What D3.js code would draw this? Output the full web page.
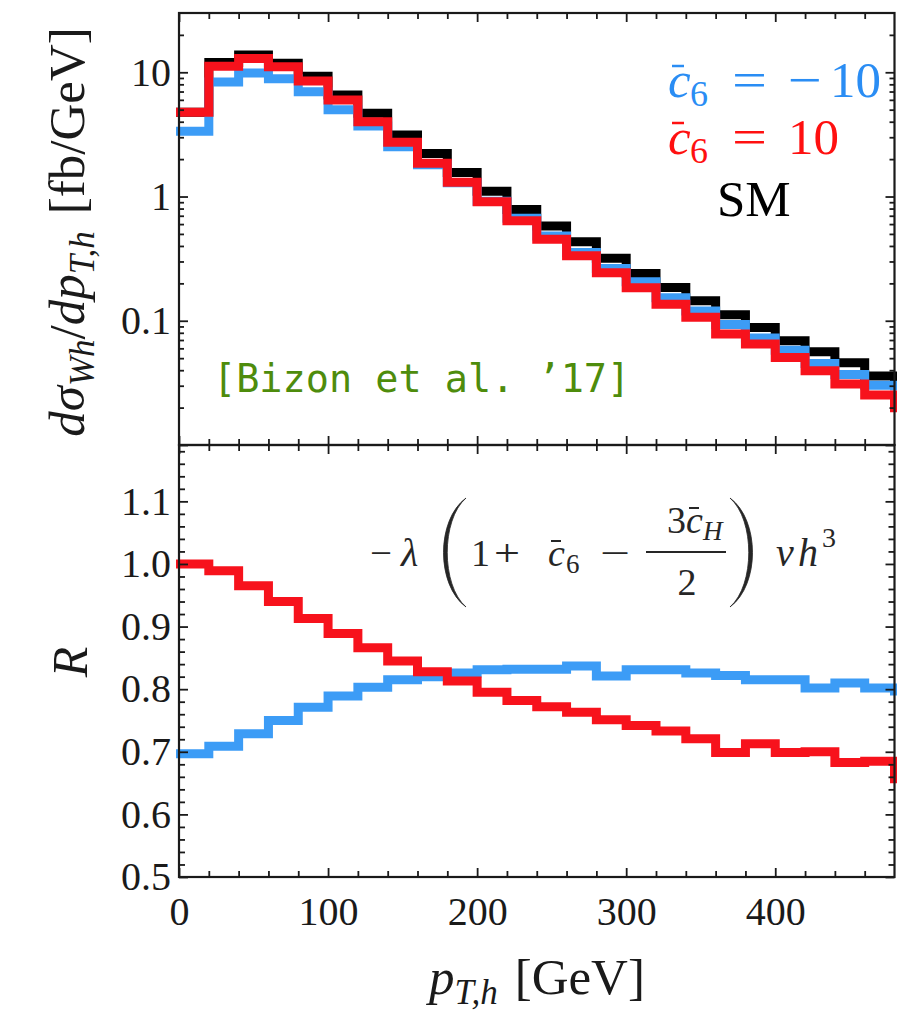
<!DOCTYPE html>
<html>
<head>
<meta charset="utf-8">
<script src="https://cdn.jsdelivr.net/npm/d3@7/dist/d3.min.js"></script>
<style>
  html, body { margin: 0; padding: 0; background: #fff; }
  svg { display: block; }
</style>
</head>
<body>
<svg id="chart" width="903" height="1013"></svg>
<script>
// Bin edges in GeV; the 480-500 bin lies past the frame and is clipped away
const binEdges = [0, 20, 40, 60, 80, 100, 120, 140, 160, 180, 200, 220, 240, 260, 280, 300,
                  320, 340, 360, 380, 400, 420, 440, 460, 480, 500];

// dσ/dp_T,h in fb/GeV
const smXsec      = [4.77, 12.0, 13.8, 11.8, 9.3, 6.55, 4.67, 3.12, 2.22, 1.56, 1.105, 0.787,
                     0.578, 0.432, 0.318, 0.240, 0.185, 0.145, 0.112, 0.0884, 0.0689, 0.0562,
                     0.0459, 0.0360, 0.0355];
const c6MinusXsec = [3.35, 8.37, 9.85, 8.85, 6.97, 5.0, 3.7, 2.51, 1.8, 1.29, 0.918, 0.667,
                     0.48, 0.355, 0.264, 0.206, 0.153, 0.120, 0.0933, 0.0728, 0.058, 0.0453,
                     0.0369, 0.0303, 0.0298];
const c6PlusXsec  = [4.77, 11.2, 12.9, 11.1, 8.49, 5.97, 3.99, 2.73, 1.85, 1.30, 0.906, 0.638,
                     0.452, 0.334, 0.244, 0.184, 0.136, 0.1066, 0.0782, 0.065, 0.0507, 0.0396,
                     0.0310, 0.0253, 0.0199];

// Ratio R to the SM prediction
const c6MinusRatio = [0.697, 0.709, 0.729, 0.750, 0.771, 0.789, 0.803, 0.815, 0.820, 0.826, 0.831,
                      0.832, 0.832, 0.837, 0.821, 0.831, 0.831, 0.826, 0.822, 0.815, 0.815, 0.802,
                      0.810, 0.802, 0.797];
const c6PlusRatio  = [1.000, 0.989, 0.965, 0.940, 0.913, 0.889, 0.866, 0.845, 0.828, 0.813, 0.795,
                      0.782, 0.772, 0.763, 0.751, 0.742, 0.733, 0.721, 0.699, 0.713, 0.699, 0.700,
                      0.683, 0.685, 0.657];

// Tick values and labels
const xMajorTicks = [0, 100, 200, 300, 400];
const xTickLabels = ["0", "100", "200", "300", "400"];
const logMajorTicks = [0.01, 0.1, 1, 10];
const logTickLabels = ["", "0.1", "1", "10"];
const ratioMajorTicks = [0.5, 0.6, 0.7, 0.8, 0.9, 1.0, 1.1];
const ratioTickLabels = ["0.5", "0.6", "0.7", "0.8", "0.9", "1.0", "1.1"];

const xMinorTicks = d3.range(20, 480, 20).filter(v => v % 100 !== 0);
const logMinorTicks = [];
[0.01, 0.1, 1].forEach(dec => d3.range(2, 10).forEach(k => logMinorTicks.push(+(k * dec).toPrecision(3))));
logMinorTicks.push(20);
const ratioMinorTicks = d3.range(26, 60).map(k => k / 50).filter(v => Math.round(v * 50) % 5 !== 0);

const svg = d3.select("#chart");
const L = 179, R = 894.5, T = 13, M = 445, B = 877;

const x = d3.scaleLinear().domain([0, 480]).range([L, R]);
const yTop = d3.scaleLog().domain([0.01, 30]).range([M, T]);
const yRat = d3.scaleLinear().domain([0.5, 1.19]).range([B, M]);

const serif = "'Liberation Serif', 'Times New Roman', Times, serif";
const ink = "#1a1a1a";
const lineBlue = "#3c9cf6";
const lineRed = "#f7121c";
const textBlue = "#2a8df4";
const textRed = "#ff1010";

// Clip regions for the two panels (a little slack left/right for the thick strokes)
const defs = svg.append("defs");
defs.append("clipPath").attr("id", "clipTop").append("rect")
  .attr("x", L - 3).attr("y", T).attr("width", R - L + 5.5).attr("height", M - T);
defs.append("clipPath").attr("id", "clipRat").append("rect")
  .attr("x", L - 3).attr("y", M).attr("width", R - L + 5.5).attr("height", B - M);

function stepPath(values, yScale) {
  const pts = values.map((v, i) => [x(binEdges[i]), yScale(v)]);
  pts.push([x(binEdges[values.length]), yScale(values[values.length - 1])]);
  return d3.line().curve(d3.curveStepAfter)(pts);
}

function drawHist(group, values, yScale, color) {
  group.append("path")
    .attr("d", stepPath(values, yScale))
    .attr("fill", "none")
    .attr("stroke", color)
    .attr("stroke-width", 9)
    .attr("stroke-linejoin", "miter")
    .attr("stroke-linecap", "square");
}

// Upper panel: differential cross sections
const topG = svg.append("g").attr("clip-path", "url(#clipTop)");
drawHist(topG, smXsec, yTop, "#000");
drawHist(topG, c6MinusXsec, yTop, lineBlue);
drawHist(topG, c6PlusXsec, yTop, lineRed);

// Lower panel: ratios
const ratG = svg.append("g").attr("clip-path", "url(#clipRat)");
drawHist(ratG, c6MinusRatio, yRat, lineBlue);
drawHist(ratG, c6PlusRatio, yRat, lineRed);

// Frame ticks (all pointing inward)
function ticks(axisGen, transform, values, size, labels, pad) {
  const g = svg.append("g").attr("transform", transform)
    .call(axisGen.tickValues(values).tickSize(-size).tickPadding(pad || 8)
      .tickFormat(labels ? (d, i) => labels[i] : () => ""));
  g.select(".domain").remove();
  g.attr("font-family", null).attr("font-size", null);
  g.selectAll(".tick line").attr("stroke", ink).attr("stroke-width", 1.8);
  g.selectAll(".tick text").attr("fill", ink)
    .style("font-family", serif).style("font-size", "40px");
  return g;
}

// upper panel
ticks(d3.axisLeft(yTop), `translate(${L},0)`, logMajorTicks, 9, logTickLabels, 8);
ticks(d3.axisLeft(yTop), `translate(${L},0)`, logMinorTicks, 5);
ticks(d3.axisRight(yTop), `translate(${R},0)`, logMajorTicks, 9);
ticks(d3.axisRight(yTop), `translate(${R},0)`, logMinorTicks, 5);
ticks(d3.axisTop(x), `translate(0,${T})`, xMajorTicks, 9);
ticks(d3.axisTop(x), `translate(0,${T})`, xMinorTicks, 6);
ticks(d3.axisBottom(x), `translate(0,${M})`, xMajorTicks, 9);
ticks(d3.axisBottom(x), `translate(0,${M})`, xMinorTicks, 6);

// lower panel
ticks(d3.axisTop(x), `translate(0,${M})`, xMajorTicks, 9);
ticks(d3.axisTop(x), `translate(0,${M})`, xMinorTicks, 6);
ticks(d3.axisBottom(x), `translate(0,${B})`, xMajorTicks, 9, xTickLabels, 20);
ticks(d3.axisBottom(x), `translate(0,${B})`, xMinorTicks, 6);
ticks(d3.axisLeft(yRat), `translate(${L},0)`, ratioMajorTicks, 9, ratioTickLabels, 8);
ticks(d3.axisLeft(yRat), `translate(${L},0)`, ratioMinorTicks, 6);
ticks(d3.axisRight(yRat), `translate(${R},0)`, ratioMajorTicks, 9);
ticks(d3.axisRight(yRat), `translate(${R},0)`, ratioMinorTicks, 6);

// Frames
svg.append("rect").attr("x", L).attr("y", T).attr("width", R - L).attr("height", M - T)
  .attr("fill", "none").attr("stroke", ink).attr("stroke-width", 2.2);
svg.append("rect").attr("x", L).attr("y", M).attr("width", R - L).attr("height", B - M)
  .attr("fill", "none").attr("stroke", ink).attr("stroke-width", 2.2);

// Axis titles
function mathLabel(sel, parts) {
  parts.forEach(p => {
    const t = sel.append("tspan").text(p.t);
    if (p.i) t.style("font-style", "italic");
    if (p.s) t.style("font-size", p.s + "px");
    if (p.dy) t.attr("dy", p.dy);
    if (p.dx) t.attr("dx", p.dx);
  });
}

const yTitle = svg.append("text")
  .attr("transform", "translate(84,232) rotate(-90)")
  .attr("text-anchor", "middle").attr("fill", ink)
  .style("font-family", serif).style("font-size", "51px");
mathLabel(yTitle, [
  { t: "dσ", i: true },
  { t: "Wh", i: true, s: 35, dy: 10 },
  { t: "/", dy: -10 },
  { t: "dp", i: true },
  { t: "T,h", i: true, s: 35, dy: 10 },
  { t: "[fb/GeV]", dy: -10, dx: 17 }
]);

const xTitle = svg.append("text")
  .attr("x", 537).attr("y", 994)
  .attr("text-anchor", "middle").attr("fill", ink)
  .style("font-family", serif).style("font-size", "51px");
mathLabel(xTitle, [
  { t: "p", i: true },
  { t: "T,h", i: true, s: 35, dy: 10 },
  { t: "[GeV]", dy: -10, dx: 17 }
]);

svg.append("text")
  .attr("transform", "translate(87,662) rotate(-90)")
  .attr("text-anchor", "middle").attr("fill", ink)
  .style("font-family", serif).style("font-size", "50px").style("font-style", "italic")
  .text("R");

// Legend and annotations
function txt(xp, yp, str, opts) {
  const t = svg.append("text").attr("x", xp).attr("y", yp).text(str)
    .attr("fill", opts.fill || ink)
    .style("font-family", opts.family || serif)
    .style("font-size", (opts.size || 40) + "px");
  if (opts.italic) t.style("font-style", "italic");
  if (opts.anchor) t.attr("text-anchor", opts.anchor);
  if (opts.len) t.attr("textLength", opts.len).attr("lengthAdjust", "spacingAndGlyphs");
  return t;
}
function bar(x1, x2, yb, color, w) {
  svg.append("line").attr("x1", x1).attr("x2", x2).attr("y1", yb).attr("y2", yb)
    .attr("stroke", color).attr("stroke-width", w || 2.5);
}

// c6 = -10
txt(668, 97, "c", { fill: textBlue, size: 51, italic: true });
bar(672, 684, 66, textBlue);
txt(690, 106, "6", { fill: textBlue, size: 36 });
txt(732, 97, "=", { fill: textBlue, size: 51, len: 35 });
txt(788, 97, "\u2212", { fill: textBlue, size: 51, len: 34 });
txt(830, 97, "10", { fill: textBlue, size: 51 });

// c6 = 10
txt(668, 154, "c", { fill: textRed, size: 51, italic: true });
bar(672, 684, 123, textRed);
txt(690, 163, "6", { fill: textRed, size: 36 });
txt(732, 154, "=", { fill: textRed, size: 51, len: 35 });
txt(788, 154, "10", { fill: textRed, size: 51 });

// SM
txt(717, 216, "SM", { fill: "#000", size: 51 });

// Reference tag
txt(213, 392, "[Bizon et al. \u201917]", {
  fill: "#4e8c0c", size: 38.5, family: "'DejaVu Sans Mono', 'Liberation Mono', monospace"
});

// Trilinear coupling term: −λ(1 + c6 − 3cH/2) v h^3
const fc = "#262626";
txt(370, 566, "\u2212", { fill: fc, size: 38, len: 22 });
txt(401, 566, "λ", { fill: fc, size: 40, italic: true });
svg.append("path")
  .attr("d", "M466,498 C436,520 436,585 466,607 C441,585 441,520 466,498 Z")
  .attr("fill", fc).attr("stroke", fc).attr("stroke-width", 0.8);
txt(471, 566, "1", { fill: fc, size: 38 });
txt(494, 566, "+", { fill: fc, size: 38, len: 26 });
txt(548, 566, "c", { fill: fc, size: 38, italic: true });
bar(551, 561, 541, fc, 2);
txt(566, 573, "6", { fill: fc, size: 27 });
txt(600, 566, "\u2212", { fill: fc, size: 38, len: 30 });
txt(686, 533, "3", { fill: fc, size: 38, anchor: "end" });
txt(686, 533, "c", { fill: fc, size: 38, italic: true });
bar(689, 699, 508, fc, 2);
txt(703, 540, "H", { fill: fc, size: 27, italic: true });
svg.append("line").attr("x1", 646).attr("x2", 726).attr("y1", 552).attr("y2", 552)
  .attr("stroke", fc).attr("stroke-width", 2);
txt(687, 595, "2", { fill: fc, size: 38, anchor: "middle" });
svg.append("path")
  .attr("d", "M730,498 C760,520 760,585 730,607 C755,585 755,520 730,498 Z")
  .attr("fill", fc).attr("stroke", fc).attr("stroke-width", 0.8);
txt(776, 566, "v", { fill: fc, size: 40, italic: true });
txt(798, 566, "h", { fill: fc, size: 40, italic: true });
txt(822, 547, "3", { fill: fc, size: 28 });
</script>
</body>
</html>
